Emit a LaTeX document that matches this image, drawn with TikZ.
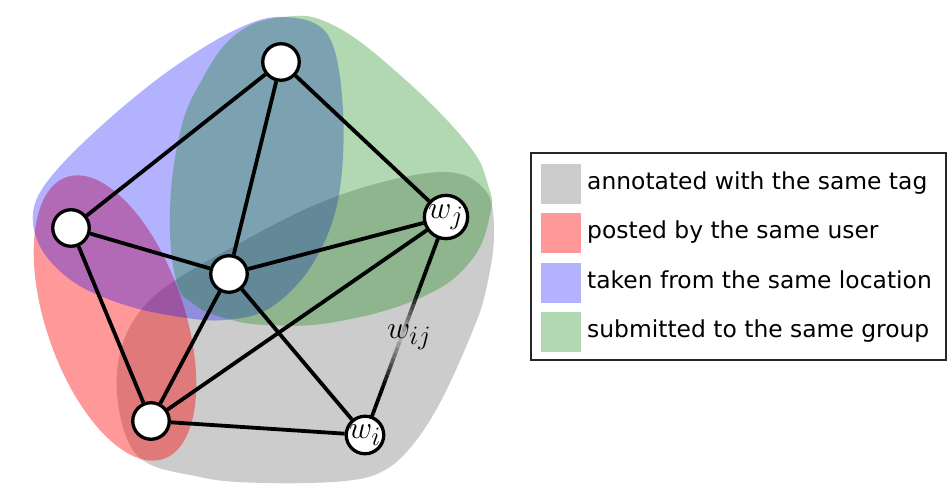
\documentclass[tikz,border=0pt]{standalone}
\usepackage{graphicx}
\usepackage{fontspec}
\newfontfamily\legendfont{DejaVu Sans}
\usetikzlibrary{calc}
\definecolor{grpgreen}{RGB}{0,128,0}
\pgfdeclarelayer{regions}
\pgfdeclarelayer{edges}
\pgfsetlayers{regions,edges,main}
\newcommand{\wlab}[1]{\scalebox{1.28}{$#1$}}
\tikzset{
  vert/.style={circle, draw=black, fill=white, line width=3.3pt, minimum size=36.5pt, inner sep=0pt, font=\fontsize{24.88}{30}\selectfont},
  edge/.style={line width=3.8pt, black},
  tagreg/.style={fill=black, fill opacity=0.2},
  userreg/.style={fill=red, fill opacity=0.4},
  locreg/.style={fill=blue, fill opacity=0.3},
  groupreg/.style={fill=grpgreen, fill opacity=0.3},
  legtext/.style={anchor=base west, inner sep=0pt, font=\legendfont\fontsize{23.4}{28}\selectfont},
  legbox/.style={draw=black!85, line width=1.6pt},
}
\begin{document}
\begin{tikzpicture}[x=1pt,y=-1pt]
\useasboundingbox (0,0) rectangle (950,485);
% vertices
\node[vert] (T) at (281,62) {};
\node[vert] (L) at (71,228) {};
\node[vert] (C) at (229,274) {};
\node[vert] (J) at (446,217) {\wlab{w_j}};
\node[vert] (B) at (151,421) {};
\node[vert] (I) at (365,435) {\wlab{w_i}};
\node[anchor=base west, inner sep=0pt, font=\fontsize{24.88}{30}\selectfont] (wij) at (387,338) {\wlab{w_{ij}}};

\begin{pgfonlayer}{regions}
\fill[white] (0,0) rectangle (950,485);
% tag (gray)
\path[tagreg] plot[smooth cycle, tension=0.6] coordinates {
  (117,372) (148,302) (240,243) (340,195) (440,172) (485,190) (494,235)
  (486,290) (473,330) (443,397) (415,442) (385,470) (345,481) (265,483)
  (200,477) (135,453)};
% user (red)
\path[userreg, rotate around={-71:(115,318)}] (115,318) ellipse [x radius=149, y radius=69];
% location (blue)
\path[locreg] plot[smooth cycle, tension=0.6] coordinates {
  (283,17) (328,35) (343,110) (338,200) (312,265) (270,308) (225,320)
  (180,317) (125,305) (75,283) (42,250) (33,213) (50,178) (100,127)
  (167,72) (235,30)};
% group (green)
\path[groupreg] plot[smooth cycle, tension=0.7] coordinates {
  (283,17) (333,25) (400,75) (467,143) (488,185) (490,215) (470,262)
  (420,298) (335,322) (267,325) (225,318) (195,305) (176,280) (170,210)
  (180,133) (200,83) (235,35)};
\end{pgfonlayer}

\begin{pgfonlayer}{edges}
\draw[edge] (T) -- (L);
\draw[edge] (T) -- (C);
\draw[edge] (T) -- (J);
\draw[edge] (L) -- (C);
\draw[edge] (L) -- (B);
\draw[edge] (C) -- (J);
\draw[edge] (C) -- (B);
\draw[edge] (C) -- (I);
\draw[edge] (J) -- (B);
\draw[edge] (B) -- (I);
\foreach \i in {0,...,39}{
  \pgfmathsetmacro{\op}{min(1,0.1+4*abs((\i+0.5)/40-0.55))}
  \pgfmathsetmacro{\ta}{\i/40}
  \pgfmathsetmacro{\tb}{(\i+1)/40}
  \draw[edge, draw opacity=\op] ($(J)!\ta!(I)$) -- ($(J)!\tb!(I)$);
}
\end{pgfonlayer}

% legend
\draw[legbox] (531,153) rectangle (946,360);
\path[tagreg] (541,164) rectangle (581,204);
\path[userreg] (541,213) rectangle (581,253);
\path[locreg] (541,263) rectangle (581,303);
\path[groupreg] (541,312) rectangle (581,352);
\node[legtext] (l1) at (587,189.5) {annotated with the same tag};
\node[legtext] (l2) at (587,238.5) {posted by the same user};
\node[legtext] (l3) at (587,288.5) {taken from the same location};
\node[legtext] (l4) at (587,337.5) {submitted to the same group};
\end{tikzpicture}
\end{document}
